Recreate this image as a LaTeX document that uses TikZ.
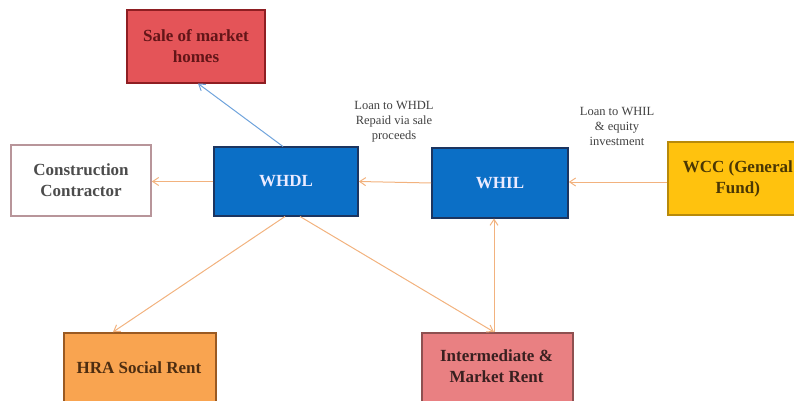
\documentclass[tikz,border=0pt]{standalone}
\usepackage{fontspec}
\setmainfont{Liberation Serif}
\usetikzlibrary{arrows.meta}
\definecolor{salefill}{HTML}{E45458}
\definecolor{saleedge}{HTML}{8E1E22}
\definecolor{bluefill}{HTML}{0B6FC6}
\definecolor{blueedge}{HTML}{1C3560}
\definecolor{wccfill}{HTML}{FFC20E}
\definecolor{wccedge}{HTML}{B88A0A}
\definecolor{hrafill}{HTML}{F9A450}
\definecolor{hraedge}{HTML}{9A5A22}
\definecolor{intfill}{HTML}{E98082}
\definecolor{intedge}{HTML}{8E5050}
\definecolor{ccedge}{HTML}{B8959A}
\definecolor{orangeline}{HTML}{F2B27E}
\definecolor{blueline}{HTML}{6FA3DC}
\tikzset{
  boxstyle/.style={draw, line width=1.6pt, minimum width=#1, inner sep=2pt, align=center, font=\fontsize{17}{21}\selectfont\bfseries},
  boxtext/.style={align=center, font=\fontsize{17}{21}\selectfont\bfseries, inner sep=0pt},
  conn/.style={draw=orangeline, line width=1pt, -{Straight Barb[length=6pt,width=8pt]}},
  bconn/.style={draw=blueline, line width=1pt, -{Straight Barb[length=6pt,width=8pt]}},
  lbl/.style={align=center, font=\fontsize{12.5}{15}\selectfont, text=black!75}
}
\begin{document}
\begin{tikzpicture}[x=1pt,y=-1pt]
\useasboundingbox (0,0) rectangle (794,401);
\node[boxstyle=138pt, minimum height=73pt, fill=salefill, draw=saleedge, text=saleedge!70!black] (sale) at (196,46.5) {Sale of market\\homes};
\node[boxstyle=140pt, minimum height=71pt, fill=white, draw=ccedge, text=black!70] (cc) at (81,180.5) {Construction\\Contractor};
\node[boxstyle=144pt, minimum height=69pt, fill=bluefill, draw=blueedge, text=blue!8] (whdl) at (286,181.5) {WHDL};
\node[boxstyle=136pt, minimum height=70pt, fill=bluefill, draw=blueedge, text=blue!8] (whil) at (500,183) {WHIL};
\node[boxstyle=140pt, minimum height=73pt, fill=wccfill, draw=wccedge, text=wccedge!40!black, anchor=west] (wcc) at (667,178.5) {WCC (General\\Fund)};
\node[draw, line width=1.6pt, minimum width=152pt, minimum height=80pt, fill=hrafill, draw=hraedge, anchor=north west] (hra) at (63,332) {};
\node[boxtext, text=hraedge!50!black] (hrat) at (139,368) {HRA Social Rent};
\node[draw, line width=1.6pt, minimum width=151pt, minimum height=80pt, fill=intfill, draw=intedge, anchor=north west] (int) at (421,332) {};
\node[boxtext, text=intedge!40!black] (intx) at (496.5,366) {Intermediate \&\\Market Rent};
\node[lbl] (l1) at (394,122) {Loan to WHDL\\Repaid via sale\\proceeds};
\node[lbl] (l2) at (617,126) {Loan to WHIL\\\& equity\\investment};
\coordinate (whdltop) at (283,146.5);
\coordinate (saleb) at (198,83.5);
\draw[bconn] (whdltop) -- (saleb);
\draw[conn] (whdl.west) -- (cc.east |- whdl.west);
\draw[conn] (whil.west) -- (whdl.east);
\draw[conn] (wcc.west |- 0,182) -- (whil.east |- 0,182);
\coordinate (wb1) at (285,216.5);
\coordinate (wb2) at (300,216.5);
\coordinate (hratop) at (113,332);
\coordinate (intt) at (494,332);
\coordinate (whilb) at (494,218.5);
\draw[conn] (wb1) -- (hratop);
\draw[conn] (wb2) -- (intt);
\draw[conn] (intt) -- (whilb);
\end{tikzpicture}
\end{document}
